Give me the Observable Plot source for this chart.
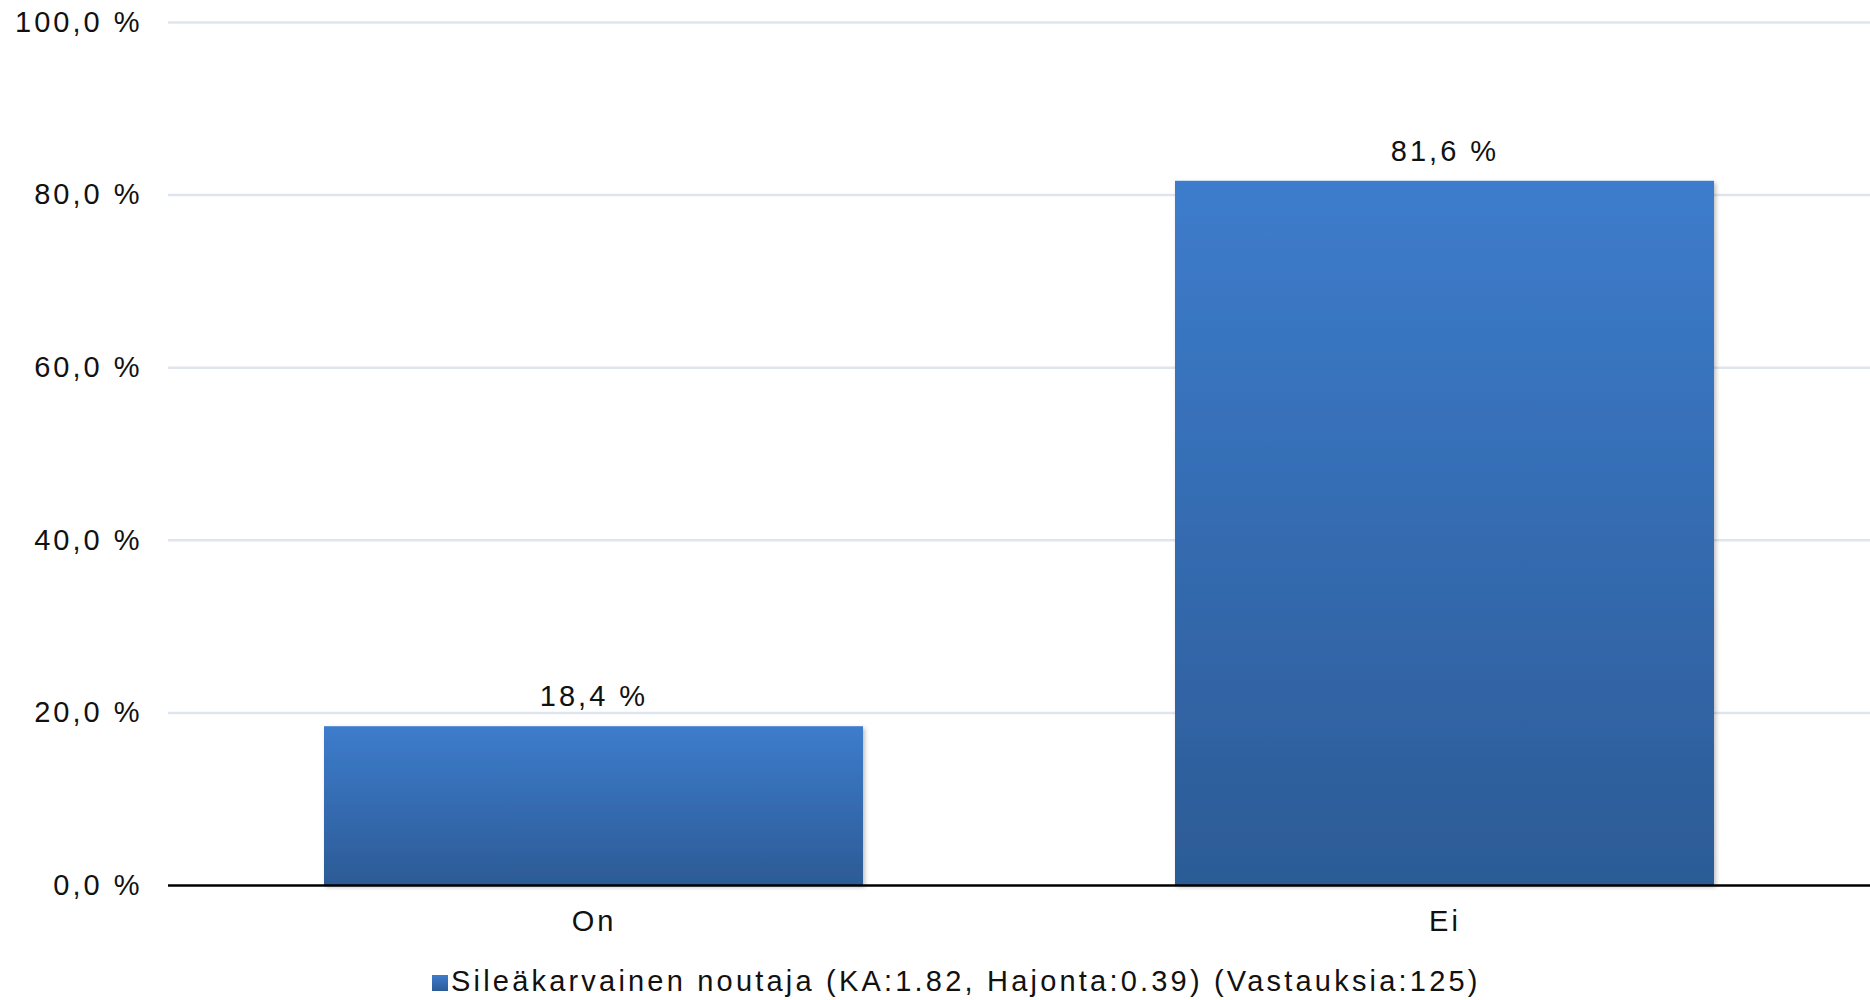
<!DOCTYPE html>
<html>
<head>
<meta charset="utf-8">
<script src="https://cdn.jsdelivr.net/npm/d3@7"></script>
<script src="https://cdn.jsdelivr.net/npm/@observablehq/plot@0.6"></script>
<style>
  html, body { margin: 0; padding: 0; background: #fff; }
  #wrap { position: relative; width: 1870px; height: 1000px; font-family: "Liberation Sans", Arial, sans-serif; }
  #legend { position: absolute; left: 432px; top: 965px; display: flex; align-items: baseline; font-size: 29px; letter-spacing: 3.2px; color: #111; white-space: nowrap; }
  #legend .sw { display: inline-block; width: 16px; height: 16px; margin-right: 3px; background: linear-gradient(#3d7ccc, #2c5b96); }
</style>
</head>
<body>
<div id="wrap"></div>
<script>
const categories = ["On", "Ei"];
const values = [18.4, 81.6];
const yTicks = [0, 20, 40, 60, 80, 100];
const seriesName = "Sileäkarvainen noutaja (KA:1.82, Hajonta:0.39) (Vastauksia:125)";

const data = categories.map((c, i) => ({category: c, value: values[i]}));
const fmt = v => v.toFixed(1).replace(".", ",") + " %";

const chart = Plot.plot({
  width: 1870,
  height: 950,
  marginTop: 22,
  marginBottom: 65,
  marginLeft: 168,
  marginRight: 0,
  style: {fontFamily: "Liberation Sans, Arial, sans-serif", fontSize: "29px", letterSpacing: "3px", color: "#111", background: "#fff"},
  x: {domain: categories, paddingInner: 0.3667, paddingOuter: 0.1833, label: null},
  y: {domain: [0, 100], label: null},
  marks: [
    Plot.ruleY(yTicks.filter(d => d > 0), {stroke: "#dfe5ee", strokeWidth: 2.5}),
    Plot.barY(data, {x: "category", y: "value", fill: "url(#barGrad)"}),
    Plot.ruleY([0], {stroke: "#000", strokeWidth: 2.5}),
    Plot.text(data, {x: "category", y: "value", text: d => fmt(d.value), dy: -30, fill: "#111"}),
    Plot.axisY({ticks: yTicks, tickFormat: fmt, tickSize: 0, tickPadding: 26, label: null}),
    Plot.axisX({tickSize: 0, tickPadding: 25, label: null})
  ]
});

const svg = d3.select(chart);
const defs = svg.insert("defs", ":first-child");
const g = defs.append("linearGradient").attr("id", "barGrad").attr("x1", 0).attr("y1", 0).attr("x2", 0).attr("y2", 1);
g.append("stop").attr("offset", "0%").attr("stop-color", "#3d7ccc");
g.append("stop").attr("offset", "100%").attr("stop-color", "#2c5b96");
const f = defs.append("filter").attr("id", "shadow").attr("x", "-5%").attr("y", "-5%").attr("width", "110%").attr("height", "110%");
f.append("feDropShadow").attr("dx", 2).attr("dy", 2).attr("stdDeviation", 2).attr("flood-color", "#000").attr("flood-opacity", 0.25);
svg.selectAll("rect").filter(function() { return this.getAttribute("fill") === "url(#barGrad)" || (this.parentNode && this.parentNode.getAttribute("fill") === "url(#barGrad)"); }).attr("filter", "url(#shadow)");

const wrap = document.getElementById("wrap");
wrap.appendChild(chart);
const legend = document.createElement("div");
legend.id = "legend";
legend.innerHTML = '<span class="sw"></span><span></span>';
legend.lastChild.textContent = seriesName;
wrap.appendChild(legend);
</script>
</body>
</html>
